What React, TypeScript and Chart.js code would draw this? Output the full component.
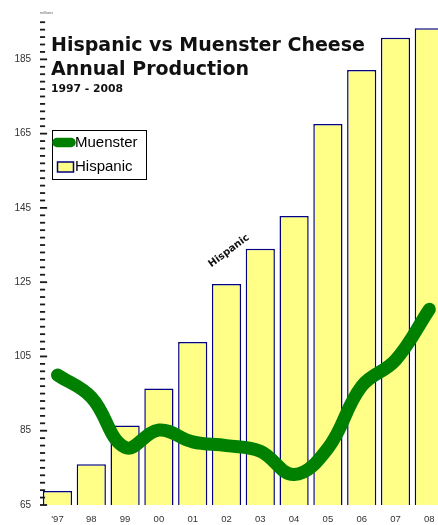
import React, { useEffect, useRef } from "react";
import { Chart, registerables } from "chart.js";

Chart.register(...registerables);

const years = ["'97", "98", "99", "00", "01", "02", "03", "04", "05", "06", "07", "08"];
const hispanic = [68.8, 76, 86.4, 96.4, 108.9, 124.5, 134, 142.8, 167.6, 182.1, 190.8, 193.4];
const muenster = [100, 94, 80.5, 85.2, 82, 81, 79.5, 73.2, 80.3, 97, 104, 117.7];
const yTickValues = [65, 85, 105, 125, 145, 165, 185];
const yMin = 65;
const yMax = 196;
const minorStep = 2;

const titleLines = ["Hispanic vs Muenster Cheese", "Annual Production"];
const subtitle = "1997 - 2008";
const unitLabel = "millions";
const seriesNames = ["Muenster", "Hispanic"];

const SANS = "'Liberation Sans', Arial, sans-serif";
const WIDE = "'DejaVu Sans', Verdana, sans-serif";

export default function App() {
  const ref = useRef<HTMLCanvasElement>(null);

  useEffect(() => {
    document.body.style.margin = "0";
    document.body.style.overflow = "hidden";

    const overlay = {
      id: "overlay",
      afterDraw(chart: any) {
        const ctx = chart.ctx as CanvasRenderingContext2D;
        const ys = chart.scales.y;
        const area = chart.chartArea;
        ctx.save();
        // y tick marks (minor + major)
        for (let v = yMin; v <= yMax; v += minorStep) {
          const py = ys.getPixelForValue(v);
          const major = yTickValues.includes(v);
          ctx.strokeStyle = "#1a1a1a";
          ctx.lineWidth = 1.8;
          ctx.beginPath();
          ctx.moveTo(area.left - 0.6, py);
          ctx.lineTo(area.left + (major ? 6.5 : 4.5), py);
          ctx.stroke();
        }
        // unit label
        ctx.fillStyle = "#666";
        ctx.font = `4px ${SANS}`;
        ctx.textBaseline = "middle";
        ctx.textAlign = "left";
        ctx.fillText(unitLabel, 40, 13);

        // titles
        ctx.fillStyle = "#111";
        ctx.textBaseline = "alphabetic";
        ctx.font = `bold 19px ${WIDE}`;
        ctx.fillText(titleLines[0], 51, 51);
        ctx.fillText(titleLines[1], 51, 75);
        ctx.font = `bold 10.8px ${WIDE}`;
        ctx.fillText(subtitle, 51, 91.5);

        // legend
        ctx.fillStyle = "#fff";
        ctx.fillRect(52.5, 130.5, 94, 49);
        ctx.strokeStyle = "#000";
        ctx.lineWidth = 1;
        ctx.strokeRect(52.5, 130.5, 94, 49);
        ctx.strokeStyle = "#008000";
        ctx.lineWidth = 9.5;
        ctx.lineCap = "round";
        ctx.beginPath();
        ctx.moveTo(57, 142.5);
        ctx.lineTo(71, 142.5);
        ctx.stroke();
        ctx.lineCap = "butt";
        ctx.fillStyle = "#FFFF88";
        ctx.fillRect(57.5, 162, 16, 10);
        ctx.strokeStyle = "#000080";
        ctx.lineWidth = 1.5;
        ctx.strokeRect(57.5, 162, 16, 10);
        ctx.fillStyle = "#000";
        ctx.font = `15px ${SANS}`;
        ctx.textBaseline = "middle";
        ctx.fillText(seriesNames[0], 75, 143);
        ctx.fillText(seriesNames[1], 75, 167);

        // rotated series label
        ctx.save();
        ctx.translate(229, 251);
        ctx.rotate((-37 * Math.PI) / 180);
        ctx.textAlign = "center";
        ctx.font = `bold 10px ${WIDE}`;
        ctx.fillStyle = "#111";
        ctx.fillText(seriesNames[1], 0, 0);
        ctx.restore();

        ctx.restore();
      },
    };

    const chart = new Chart(ref.current as HTMLCanvasElement, {
      type: "bar",
      data: {
        labels: years,
        datasets: [
          {
            type: "line",
            label: seriesNames[0],
            data: muenster,
            borderColor: "#008000",
            backgroundColor: "#008000",
            borderWidth: 13,
            borderCapStyle: "round",
            borderJoinStyle: "round",
            tension: 0.4,
            pointRadius: 0,
            fill: false,
            order: 0,
          } as any,
          {
            type: "bar",
            label: seriesNames[1],
            data: hispanic,
            backgroundColor: "#FFFF88",
            borderColor: "#000080",
            borderWidth: 1.5,
            borderSkipped: false,
            categoryPercentage: 1,
            barPercentage: 0.864,
            order: 1,
          } as any,
        ],
      },
      options: {
        responsive: false,
        animation: false,
        devicePixelRatio: 1,
        layout: { padding: { top: 18.5, right: 3.8, left: 0, bottom: 0 } },
        plugins: {
          legend: { display: false },
          tooltip: { enabled: false },
          title: { display: false },
        },
        scales: {
          x: {
            grid: { display: false, drawTicks: false },
            border: { display: false },
            ticks: {
              color: "#333",
              font: { family: SANS, size: 9.5 },
              padding: 9,
              maxRotation: 0,
              autoSkip: false,
            },
            afterFit: (s: any) => {
              s.height = 20;
            },
          },
          y: {
            min: yMin,
            max: yMax,
            grid: { display: false, drawTicks: false },
            border: { display: false },
            ticks: {
              color: "#333",
              font: { family: SANS, size: 10 },
              padding: 9.5,
              autoSkip: false,
            },
            afterBuildTicks: (s: any) => {
              s.ticks = yTickValues.map((v) => ({ value: v }));
            },
            afterFit: (s: any) => {
              s.width = 40.6;
            },
          },
        },
      },
      plugins: [overlay],
    });
    return () => chart.destroy();
  }, []);

  return (
    <div
      style={{
        position: "absolute",
        left: 0,
        top: 0,
        width: 438,
        height: 525,
        overflow: "hidden",
        background: "#fff",
      }}
    >
      <canvas ref={ref} width={450} height={525} style={{ display: "block" }} />
    </div>
  );
}
